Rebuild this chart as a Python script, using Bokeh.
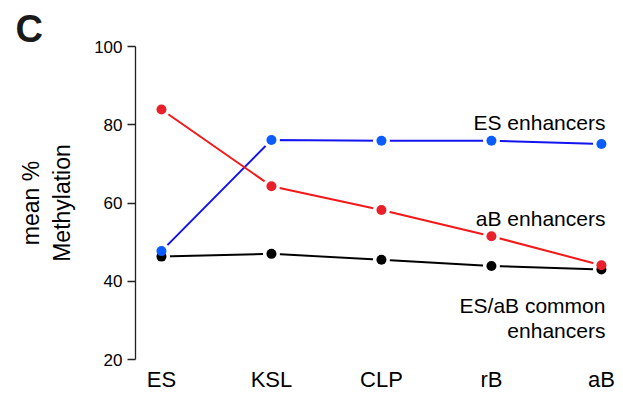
from bokeh.plotting import figure
from bokeh.models import FixedTicker, Label, Range1d
from bokeh.embed import file_html
from bokeh.resources import INLINE

stages = ["ES", "KSL", "CLP", "rB", "aB"]
es_enh = [47.7, 76.1, 75.9, 75.9, 75.1]
ab_enh = [83.9, 64.3, 58.2, 51.5, 44.1]
common_enh = [46.3, 47.0, 45.5, 43.9, 43.0]
y_ticks = [20, 40, 60, 80, 100]

FONT = "Liberation Sans"
xs = list(range(len(stages)))

p = figure(width=623, height=394, output_backend="svg", toolbar_location=None,
           x_range=Range1d(-0.236, 4.137), y_range=Range1d(20, 100),
           min_border_left=135, min_border_right=7, min_border_top=46, min_border_bottom=31,
           title="C")
p.outline_line_color = None
p.xgrid.visible = False
p.ygrid.visible = False
p.background_fill_color = "white"
p.border_fill_color = "white"

p.title.text_font = FONT
p.title.text_font_size = "38px"
p.title.text_font_style = "bold"
p.title.text_color = "#1a1a1a"
p.title.align = "left"
p.title.offset = -120
p.title.standoff = -6

series = [
    (common_enh, "#000000", "#000000"),
    (es_enh, "#1414F0", "#0A5CFF"),
    (ab_enh, "#F41818", "#E8202A"),
]
for vals, lc, mc in series:
    p.line(xs, vals, line_color=lc, line_width=2)
for vals, lc, mc in series:
    p.scatter(xs, vals, size=17, fill_color="white", line_color=None)
for vals, lc, mc in series:
    p.scatter(xs, vals, size=10, fill_color=mc, line_color=None)

ya = p.yaxis[0]
ya.ticker = FixedTicker(ticks=y_ticks)
ya.minor_tick_line_color = None
ya.major_tick_in = 0
ya.major_tick_out = 8
ya.axis_line_width = 1.3
ya.axis_line_color = "#222222"
ya.major_tick_line_color = "#222222"
ya.major_tick_line_width = 1.3
ya.major_label_text_font = FONT
ya.major_label_text_font_size = "17px"
ya.major_label_text_color = "black"
ya.major_label_standoff = 5
ya.axis_label = "mean %\nMethylation"
ya.axis_label_text_font = FONT
ya.axis_label_text_font_size = "23px"
ya.axis_label_text_font_style = "normal"
ya.axis_label_text_color = "black"
ya.axis_label_standoff = 16

xa = p.xaxis[0]
xa.ticker = FixedTicker(ticks=xs)
xa.major_label_overrides = {i: s for i, s in enumerate(stages)}
xa.axis_line_color = None
xa.major_tick_line_color = None
xa.minor_tick_line_color = None
xa.major_tick_out = 0
xa.major_tick_in = 0
xa.major_label_standoff = 7
xa.major_label_text_font = FONT
xa.major_label_text_font_size = "22px"
xa.major_label_text_color = "black"

def lab(text, y):
    p.add_layout(Label(x=4, y=y, x_offset=4, text=text, text_align="right",
                       text_baseline="alphabetic", text_font=FONT,
                       text_font_size="21px", text_color="black"))

lab("ES enhancers", 80.65)
lab("aB enhancers", 56.1)
lab("ES/aB common", 33.85)
lab("enhancers", 27.5)

open("out.html", "w").write(file_html(p, INLINE))
